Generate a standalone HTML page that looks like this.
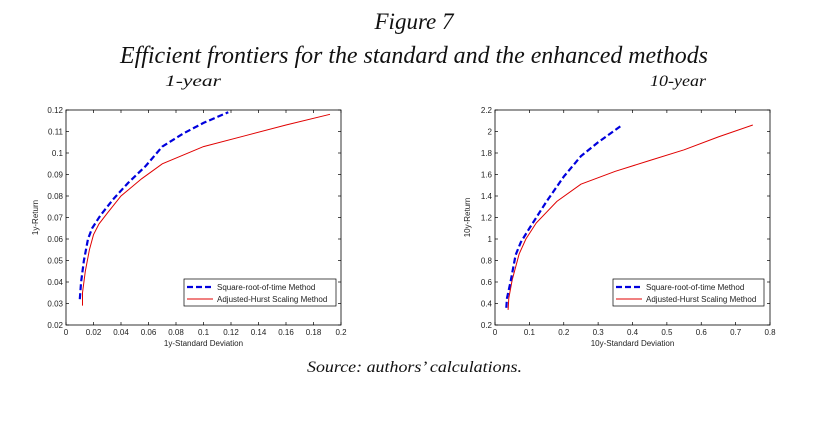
<!DOCTYPE html>
<html><head><meta charset="utf-8">
<style>
html,body{margin:0;padding:0;background:#fff;width:828px;height:426px;overflow:hidden}
svg{display:block}
.t{font-family:"Liberation Serif",serif;font-style:italic;fill:#111}
.k{font-family:"Liberation Sans",sans-serif;font-size:8px;fill:#222}
</style></head><body>
<svg id="s" width="828" height="426" xmlns="http://www.w3.org/2000/svg">
<text class="t" x="414" y="29" font-size="23" text-anchor="middle">Figure 7</text>
<text class="t" x="120" y="63" font-size="24" textLength="588" lengthAdjust="spacingAndGlyphs">Efficient frontiers for the standard and the enhanced methods</text>
<text class="t" x="165" y="86" font-size="16" textLength="56" lengthAdjust="spacingAndGlyphs">1-year</text>
<text class="t" x="650" y="86" font-size="16" textLength="56" lengthAdjust="spacingAndGlyphs">10-year</text>
<text class="t" x="307" y="372" font-size="16" textLength="215" lengthAdjust="spacingAndGlyphs">Source: authors’ calculations.</text>
</svg>
<script>
var s=document.getElementById('s'),NS='http://www.w3.org/2000/svg';
function el(n,a,t){var e=document.createElementNS(NS,n);for(var k in a)e.setAttribute(k,a[k]);if(t!=null)e.textContent=t;s.appendChild(e);return e;}
function plot(o){
 var L=o.L,R=o.R,T=110,B=325;
 function X(v){return L+(v-o.x0)/(o.x1-o.x0)*(R-L);}
 function Y(v){return B-(v-o.y0)/(o.y1-o.y0)*(B-T);}
 el('rect',{x:L,y:T,width:R-L,height:B-T,fill:'none',stroke:'#000','stroke-width':0.8});
 o.xt.forEach(function(v){var x=X(v);
  el('line',{x1:x,y1:B,x2:x,y2:B-3,stroke:'#000','stroke-width':0.7});
  el('line',{x1:x,y1:T,x2:x,y2:T+3,stroke:'#000','stroke-width':0.7});
  el('text',{x:x,y:B+10,'class':'k','text-anchor':'middle'},String(v));});
 o.yt.forEach(function(v){var y=Y(v);
  el('line',{x1:L,y1:y,x2:L+3,y2:y,stroke:'#000','stroke-width':0.7});
  el('line',{x1:R,y1:y,x2:R-3,y2:y,stroke:'#000','stroke-width':0.7});
  el('text',{x:L-3,y:y+3,'class':'k','text-anchor':'end'},String(v));});
 el('text',{x:(L+R)/2,y:B+21,'class':'k','text-anchor':'middle'},o.xl);
 el('text',{x:0,y:0,'class':'k','text-anchor':'middle',transform:'translate('+(o.yx)+','+((T+B)/2)+') rotate(-90)'},o.yl);
 function pts(a){return a.map(function(p){return X(p[0]).toFixed(1)+','+Y(p[1]).toFixed(1)}).join(' ');}
 el('polyline',{points:pts(o.red),fill:'none',stroke:'#e00000','stroke-width':1});
 el('polyline',{points:pts(o.blue),fill:'none',stroke:'#0000dd','stroke-width':2.2,'stroke-dasharray':'6,3'});
 var lx=o.lx,lw=o.lw;
 el('rect',{x:lx,y:279,width:lw,height:27,fill:'#fff',stroke:'#000','stroke-width':0.7});
 el('line',{x1:lx+3,y1:287,x2:lx+29,y2:287,stroke:'#0000dd','stroke-width':2.2,'stroke-dasharray':'6,3'});
 el('line',{x1:lx+3,y1:299,x2:lx+29,y2:299,stroke:'#e00000','stroke-width':1});
 el('text',{x:lx+33,y:290,'class':'k'},'Square-root-of-time Method');
 el('text',{x:lx+33,y:302,'class':'k'},'Adjusted-Hurst Scaling Method');
}
plot({L:66,R:341,x0:0,x1:0.2,y0:0.02,y1:0.12,
 xt:[0,0.02,0.04,0.06,0.08,0.1,0.12,0.14,0.16,0.18,0.2],
 yt:[0.02,0.03,0.04,0.05,0.06,0.07,0.08,0.09,0.1,0.11,0.12],
 xl:'1y-Standard Deviation',yl:'1y-Return',yx:38,lx:184,lw:152,
 blue:[[0.010,0.032],[0.011,0.040],[0.013,0.050],[0.016,0.060],[0.019,0.065],[0.025,0.071],[0.035,0.079],[0.045,0.086],[0.058,0.094],[0.070,0.103],[0.085,0.109],[0.100,0.114],[0.118,0.119]],
 red:[[0.012,0.029],[0.012,0.035],[0.014,0.045],[0.017,0.055],[0.020,0.062],[0.024,0.067],[0.030,0.072],[0.040,0.080],[0.055,0.088],[0.070,0.095],[0.085,0.099],[0.100,0.103],[0.130,0.108],[0.160,0.113],[0.192,0.118]]});
plot({L:495,R:770,x0:0,x1:0.8,y0:0.2,y1:2.2,
 xt:[0,0.1,0.2,0.3,0.4,0.5,0.6,0.7,0.8],
 yt:[0.2,0.4,0.6,0.8,1,1.2,1.4,1.6,1.8,2,2.2],
 xl:'10y-Standard Deviation',yl:'10y-Return',yx:470,lx:613,lw:151,
 blue:[[0.033,0.36],[0.035,0.45],[0.045,0.60],[0.060,0.85],[0.075,0.97],[0.10,1.10],[0.15,1.35],[0.20,1.58],[0.25,1.77],[0.30,1.90],[0.37,2.06]],
 red:[[0.038,0.34],[0.040,0.45],[0.05,0.62],[0.07,0.86],[0.09,1.00],[0.12,1.15],[0.18,1.35],[0.25,1.51],[0.35,1.63],[0.45,1.73],[0.55,1.83],[0.65,1.95],[0.75,2.06]]});
</script>
</body></html>
